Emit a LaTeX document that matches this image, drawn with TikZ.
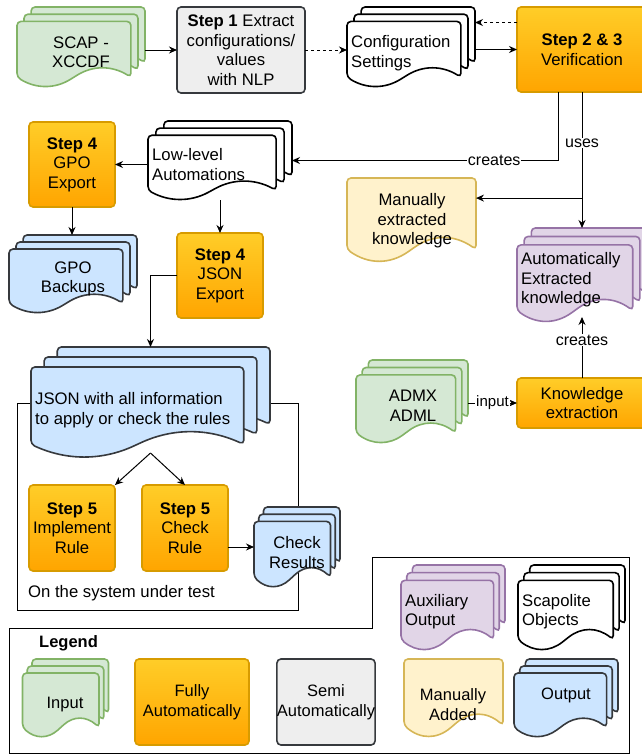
\documentclass[tikz,border=0pt]{standalone}
\usepackage{fontspec}
\setmainfont{Liberation Sans}
\usepackage{tikz}
\usetikzlibrary{arrows.meta,calc,positioning}

\definecolor{grnfill}{HTML}{D5E8D4}
\definecolor{grnline}{HTML}{82B366}
\definecolor{bluefill}{HTML}{CCE5FF}
\definecolor{darkline}{HTML}{36393D}
\definecolor{yelfill}{HTML}{FFF2CC}
\definecolor{yelline}{HTML}{D6B656}
\definecolor{purfill}{HTML}{E1D5E7}
\definecolor{purline}{HTML}{9673A6}
\definecolor{grayfill}{HTML}{EEEEEE}
\definecolor{orgtop}{HTML}{FFCD28}
\definecolor{orgbot}{HTML}{FFA500}
\definecolor{orgline}{HTML}{D79B00}

\newcommand{\bodysize}{\fontsize{16.7}{19.5}\selectfont}
\newcommand{\legsize}{\fontsize{16.5}{20}\selectfont}
\newcommand{\lblsize}{\fontsize{16}{19}\selectfont}

% document outline: x, y, w, h (y grows downwards)
\newcommand{\docpath}[4]{(#1,#2) -- (#1+#3,#2) -- (#1+#3,#2+0.85*#4)
  .. controls (#1+0.833*#3,#2+0.67*#4) and (#1+0.667*#3,#2+0.67*#4) .. (#1+0.5*#3,#2+0.85*#4)
  .. controls (#1+0.333*#3,#2+1.03*#4) and (#1+0.167*#3,#2+1.03*#4) .. (#1,#2+0.85*#4) -- cycle}

% name, style, x, y, w, h
\newcommand{\singledoc}[6]{%
  \draw[#2] \docpath{#3}{#4}{#5}{#6};
  \node[hold, minimum width=#5, minimum height=#6] (#1) at (#3+0.5*#5,#4+0.5*#6) {};}
\newcommand{\multidoc}[6]{%
  \draw[#2] \docpath{#3+0.11*#5}{#4}{0.89*#5}{0.82*#6};
  \draw[#2] \docpath{#3+0.055*#5}{#4+0.09*#6}{0.89*#5}{0.82*#6};
  \draw[#2] \docpath{#3}{#4+0.18*#6}{0.89*#5}{0.82*#6};
  \node[hold, minimum width=#5, minimum height=#6] (#1) at (#3+0.5*#5,#4+0.5*#6) {};}

\begin{document}
\begin{tikzpicture}[x=1pt,y=-1pt]

\tikzset{
  hold/.style={inner sep=0, outer sep=0},
  txt/.style={inner sep=0, align=center, font=\bodysize},
  ltxt/.style={inner sep=0, align=left, anchor=west, font=\bodysize},
  autobox/.style={draw=orgline, line width=1.6pt, rounded corners=4pt, top color=orgtop,
    bottom color=orgbot, align=center, inner sep=0, outer sep=0, font=\bodysize},
  semibox/.style={draw=darkline, fill=grayfill, line width=1.6pt, rounded corners=4pt,
    align=center, inner sep=0, outer sep=0, font=\bodysize},
  indoc/.style={draw=grnline, fill=grnfill, line width=1.6pt, rounded corners=4pt},
  outdoc/.style={draw=darkline, fill=bluefill, line width=1.6pt, rounded corners=4pt},
  mandoc/.style={draw=yelline, fill=yelfill, line width=1.6pt, rounded corners=4pt},
  auxdoc/.style={draw=purline, fill=purfill, line width=1.6pt, rounded corners=4pt},
  scpdoc/.style={draw=black, fill=white, line width=1.6pt, rounded corners=4pt},
  arr/.style={line width=1pt, -{Stealth[length=8pt,width=7pt]}},
  lbl/.style={fill=white, inner sep=1pt, font=\lblsize},
  frame/.style={line width=1pt}
}

\useasboundingbox (0,0) rectangle (642,755);

% frames
\draw[frame] (17,403) rectangle (298,610);
\draw[frame] (9,628) -- (372,628) -- (372,557) -- (629,557) -- (629,753) -- (9,753) -- cycle;

% top row
\multidoc{scap}{indoc}{17}{7}{128}{80}
\node[txt] (scap-t) at (81,52) {SCAP -\\XCCDF};
\node[semibox, minimum width=128, minimum height=86] (step1) at (241,50)
  {\textbf{Step 1} Extract\\configurations/\\values\\with NLP};
\multidoc{cfg}{scpdoc}{347}{7}{128}{80}
\node[ltxt] (cfg-t) at (351,53) {Configuration\\Settings};
\node[autobox, minimum width=130, minimum height=85] (verif) at (582,49.5)
  {\textbf{Step 2 \& 3}\\Verification};

% automations and exports
\multidoc{lla}{scpdoc}{148}{121}{144}{79}
\node[ltxt] (lla-t) at (152,164.5) {Low-level\\Automations};
\node[autobox, minimum width=86, minimum height=85] (s4gpo) at (72,164.5)
  {\textbf{Step 4}\\GPO\\Export};
\multidoc{gpobak}{outdoc}{9}{235}{128}{78}
\node[txt] (gpobak-t) at (73,279) {GPO\\Backups};
\node[autobox, minimum width=86, minimum height=85] (s4json) at (220,275.5)
  {\textbf{Step 4}\\JSON\\Export};

% knowledge
\singledoc{man}{mandoc}{347}{178}{129}{84}
\node[txt] (man-t) at (412,221) {Manually\\extracted\\knowledge};
\multidoc{auto}{auxdoc}{517}{228}{130}{94}
\node[ltxt] (auto-t) at (521,280) {Automatically\\Extracted\\knowledge};
\multidoc{admx}{indoc}{356}{360}{112}{83}
\node[txt] (admx-t) at (413,405.5) {ADMX\\ADML};
\node[autobox, minimum width=130, minimum height=50] (ke) at (582,403)
  {Knowledge\\extraction};

% system under test
\multidoc{json}{outdoc}{31}{347}{239}{111}
\node[ltxt] (json-t) at (35,410) {JSON with all information\\to apply or check the rules};
\node[autobox, minimum width=86, minimum height=86] (s5imp) at (72,528)
  {\textbf{Step 5}\\Implement\\Rule};
\node[autobox, minimum width=86, minimum height=86] (s5chk) at (185,528)
  {\textbf{Step 5}\\Check\\Rule};
\multidoc{chkres}{outdoc}{254}{507}{86}{80}
\node[txt] (chkres-t) at (297,552.5) {Check\\Results};
\node[ltxt] (sut-t) at (28,593) {On the system under test};

% legend
\node[inner sep=0, anchor=west, font=\legsize\bfseries] (leg-t) at (39,643) {Legend};
\multidoc{leg-in}{indoc}{22.5}{659}{86}{78}
\node[txt, font=\legsize] (leg-in-t) at (65,705) {Input};
\node[autobox, minimum width=114, minimum height=86, font=\legsize] (leg-fa) at (192,702)
  {Fully\\Automatically};
\node[semibox, minimum width=98, minimum height=86, font=\legsize] (leg-sa) at (326,702)
  {Semi\\Automatically};
\singledoc{leg-ma}{mandoc}{404}{659}{99}{78}
\node[txt, font=\legsize] (leg-ma-t) at (453,705) {Manually\\Added};
\multidoc{leg-out}{outdoc}{514}{659}{104}{78}
\node[txt, font=\legsize] (leg-out-t) at (566,695) {Output};
\multidoc{leg-aux}{auxdoc}{401}{565}{104}{85}
\node[ltxt] (leg-aux-t) at (405,611.5) {Auxiliary\\Output};
\multidoc{leg-scp}{scpdoc}{518}{565}{107}{85}
\node[ltxt] (leg-scp-t) at (522,611.5) {Scapolite\\Objects};

% connectors
\draw[arr] (scap.east |- step1.west) -- (step1.west);
\draw[arr, dashed] (step1.east) -- (step1.east -| cfg.west);
\coordinate (vt) at ([yshift=27pt]verif.west);
\draw[arr, dashed] (vt) -- (vt -| cfg.east);
\draw[arr] (cfg.east |- verif.west) -- (verif.west);

\coordinate (vc) at ([xshift=-24pt]verif.south);
\draw[arr] (vc) |- (lla.east) node[lbl, pos=0.62] {creates};
\draw[arr] (verif.south) -- (auto.north) node[lbl, pos=0.375] {uses};
\coordinate (br) at ($(verif.south)!0.78!(auto.north)$);
\draw[arr] (br) -- (br -| man.east);

\draw[arr] (s4gpo.east -| lla.west) -- (s4gpo.east);
\draw[arr] (s4gpo.south) -- (s4gpo.south |- gpobak.north);
\draw[arr] (s4json.north |- lla.south) -- (s4json.north);
\draw[arr] (s4json.west) -| (json.north);

\coordinate (jb) at ([yshift=5pt]json.south);
\draw[arr] (jb) -- (s5imp.north east);
\draw[arr] (jb) -- (s5chk.north);
\draw[arr] (s5chk.east |- chkres.west) -- (chkres.west);

\coordinate (ab) at ([yshift=5pt]auto.south);
\draw[arr] (ke.north) -- (ab) node[lbl, pos=0.62] {creates};
\draw[arr] (admx.east |- ke.west) -- (ke.west) node[lbl, midway, font=\fontsize{15}{18}\selectfont] {input};

\end{tikzpicture}
\end{document}
